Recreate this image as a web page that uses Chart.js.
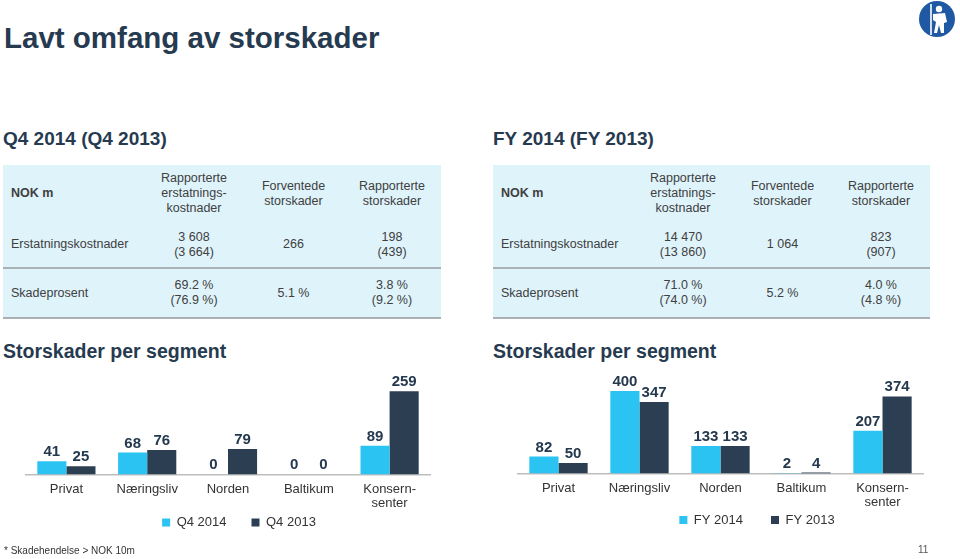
<!DOCTYPE html>
<html lang="no">
<head>
<meta charset="utf-8">
<title>Lavt omfang av storskader</title>
<script src="https://cdn.jsdelivr.net/npm/chart.js@4.4.0/dist/chart.umd.min.js"></script>
<style>
  html, body { margin: 0; padding: 0; }
  body {
    width: 960px; height: 559px; overflow: hidden; position: relative;
    background: #fff; color: #404040;
    font-family: "Liberation Sans", Arial, sans-serif;
  }
  .abs { position: absolute; white-space: nowrap; }
  .title { left: 4px; top: 21px; font-size: 29.5px; line-height: 34px; font-weight: bold; color: #263a50; }
  .sub { top: 128px; font-size: 19px; line-height: 22px; font-weight: bold; color: #263a50; }
  .sec { top: 340px; font-size: 19.5px; line-height: 22px; font-weight: bold; color: #263a50; }
  .foot { left: 4px; top: 545px; font-size: 10px; line-height: 12px; color: #333; }
  .pno { left: 918px; top: 544px; font-size: 10px; line-height: 12px; color: #555; }
  table.kt {
    position: absolute; top: 165px; border-collapse: collapse; table-layout: fixed;
    background: #dff3fb; font-size: 12.5px; line-height: 15px; color: #404040;
  }
  table.kt td { text-align: center; vertical-align: middle; padding: 0; }
  table.kt td.lab { text-align: left; padding-left: 8px; }
  table.kt tr.h td { height: 57px; }
  table.kt tr.h td.lab { font-weight: bold; }
  table.kt tr.r1 td { height: 45px; border-bottom: 2px solid #a9b0b6; }
  table.kt tr.r2 td { height: 48px; border-bottom: 2px solid #a9b0b6; }
  canvas { position: absolute; }
</style>
</head>
<body>
<div class="abs title">Lavt omfang av storskader</div>

<svg class="abs" style="left:918px;top:0px" width="40" height="40" viewBox="0 0 40 40">
  <circle cx="19" cy="19" r="18" fill="#1f58a3"/>
  <line x1="13" y1="4" x2="13" y2="35" stroke="#fff" stroke-width="1.6"/>
  <circle cx="21" cy="9" r="3.2" fill="#fff"/>
  <path d="M15 14 L27 13 L29 22 L26 23 L26 33 L23 33 L21 25 L19 33 L16 33 L18 22 L15 20 Z" fill="#fff"/>
</svg>

<div class="abs sub" style="left:3px">Q4 2014 (Q4 2013)</div>
<div class="abs sub" style="left:493px">FY 2014 (FY 2013)</div>

<table class="kt" id="tblQ4" style="left:3px"></table>
<table class="kt" id="tblFY" style="left:493px"></table>

<div class="abs sec" style="left:3px">Storskader per segment</div>
<div class="abs sec" style="left:493px">Storskader per segment</div>

<canvas id="chartQ4" width="460" height="202" style="left:0px;top:365px"></canvas>
<canvas id="chartFY" width="520" height="204" style="left:480px;top:365px"></canvas>

<div class="abs foot">* Skadehendelse &gt; NOK 10m</div>
<div class="abs pno">11</div>

<script>
// table content
const tableHeader = ['NOK m', ['Rapporterte', 'erstatnings-', 'kostnader'], ['Forventede', 'storskader'], ['Rapporterte', 'storskader']];
const rowLabels = ['Erstatningskostnader', 'Skadeprosent'];
const q4Cells = [
    [['3 608', '(3 664)'], ['266'], ['198', '(439)']],
    [['69.2 %', '(76.9 %)'], ['5.1 %'], ['3.8 %', '(9.2 %)']]
];
const fyCells = [
    [['14 470', '(13 860)'], ['1 064'], ['823', '(907)']],
    [['71.0 %', '(74.0 %)'], ['5.2 %'], ['4.0 %', '(4.8 %)']]
];

// chart data
const segments = ['Privat', 'Næringsliv', 'Norden', 'Baltikum', ['Konsern-', 'senter']];
const q4Labels = ['Q4 2014', 'Q4 2013'];
const q4_2014 = [41, 68, 0, 0, 89];
const q4_2013 = [25, 76, 79, 0, 259];
const fyLabels = ['FY 2014', 'FY 2013'];
const fy_2014 = [82, 400, 133, 2, 207];
const fy_2013 = [50, 347, 133, 4, 374];

const FONT = '"Liberation Sans", Arial, sans-serif';
const LIGHT = '#2ac3f2';
const DARK = '#2b3e52';

function buildTable(id, cells, widths) {
    const tbl = document.getElementById(id);
    let html = '<colgroup>' + widths.map(w => `<col style="width:${w}px">`).join('') + '</colgroup>';
    html += '<tr class="h"><td class="lab">' + tableHeader[0] + '</td>' +
        tableHeader.slice(1).map(l => '<td>' + l.join('<br>') + '</td>').join('') + '</tr>';
    cells.forEach((row, i) => {
        html += `<tr class="r${i + 1}"><td class="lab">${rowLabels[i]}</td>` +
            row.map(c => '<td>' + c.join('<br>') + '</td>').join('') + '</tr>';
    });
    tbl.innerHTML = html;
}
buildTable('tblQ4', q4Cells, [141, 100, 99, 98]);
buildTable('tblFY', fyCells, [140, 100, 99, 98]);

// value labels above the bars
const barLabels = {
    id: 'barLabels',
    afterDatasetsDraw(chart) {
        const ctx = chart.ctx;
        ctx.save();
        ctx.font = 'bold 15px ' + FONT;
        ctx.fillStyle = '#24384e';
        ctx.textAlign = 'center';
        ctx.textBaseline = 'alphabetic';
        chart.data.datasets.forEach((ds, i) => {
            chart.getDatasetMeta(i).data.forEach((bar, j) => {
                ctx.fillText(ds.data[j], bar.x, bar.y - 5);
            });
        });
        ctx.restore();
    }
};

// pull the legend up close under the category labels
function legendUp(off) {
    return {
        id: 'legendUp',
        afterLayout(chart) {
            const lg = chart.legend;
            const h = lg.bottom - lg.top;
            lg.top = chart.scales.x.bottom + off - lg.options.labels.padding;
            lg.bottom = lg.top + h;
        }
    };
}

function makeChart(id, names, a, b, yMax, pad, rightGap, legendPad, legendOff) {
    const ctx = document.getElementById(id).getContext('2d');
    return new Chart(ctx, {
        type: 'bar',
        data: {
            labels: segments,
            datasets: [
                { label: names[0], data: a, backgroundColor: LIGHT, borderWidth: 0 },
                { label: names[1], data: b, backgroundColor: DARK, borderWidth: 0 }
            ]
        },
        options: {
            responsive: false,
            animation: false,
            devicePixelRatio: 1,
            categoryPercentage: 0.72,
            barPercentage: 1,
            layout: { padding: pad },
            scales: {
                x: {
                    grid: { display: false, drawTicks: false },
                    border: { display: true, color: '#bdbdbd', width: 1.5 },
                    ticks: {
                        color: '#333', padding: 8, maxRotation: 0, autoSkip: false,
                        font: { size: 13, family: FONT, lineHeight: 1.1 }
                    }
                },
                y: {
                    position: 'right',
                    min: 0, max: yMax,
                    grid: { display: false },
                    border: { display: false },
                    ticks: { display: false },
                    afterFit: s => { s.width = rightGap; }
                }
            },
            plugins: {
                tooltip: { enabled: false },
                legend: {
                    position: 'bottom',
                    labels: {
                        boxWidth: 8, boxHeight: 8, padding: legendPad, color: '#333',
                        font: { size: 13, family: FONT }
                    }
                }
            }
        },
        plugins: [barLabels, legendUp(legendOff)]
    });
}

makeChart('chartQ4', q4Labels, q4_2014, q4_2013, 294, { left: 26, right: 8, top: 15, bottom: 0 }, 22, 25, -3);
makeChart('chartFY', fyLabels, fy_2014, fy_2013, 454, { left: 38, right: 4, top: 15, bottom: 0 }, 73, 28, -4.5);
</script>
</body>
</html>
